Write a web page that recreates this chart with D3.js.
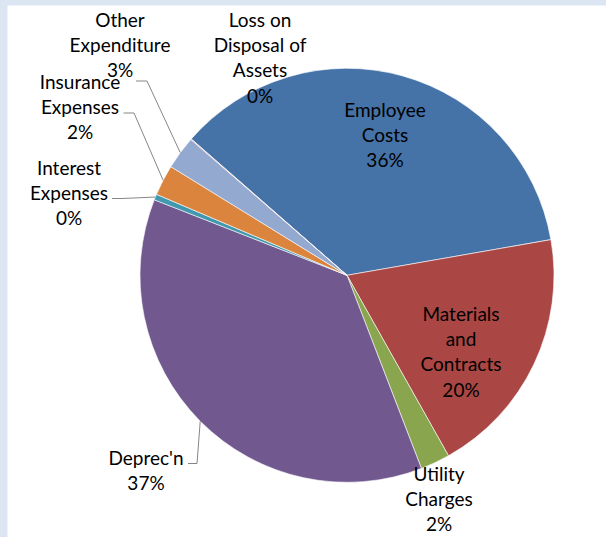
<!DOCTYPE html>
<html>
<head>
<meta charset="utf-8">
<script src="https://cdn.jsdelivr.net/npm/d3@7"></script>
<style>
  html, body { margin: 0; padding: 0; background: #dce6f2; }
  svg { display: block; }
</style>
</head>
<body>
<svg id="chart" width="606" height="537"></svg>
<script>
// Expenditure breakdown (percent of total)
const categories = [
  "Employee Costs", "Materials and Contracts", "Utility Charges", "Deprec'n",
  "Interest Expenses", "Insurance Expenses", "Other Expenditure", "Loss on Disposal of Assets"
];
const values = [35.8, 19.6, 2.3, 36.8, 0.45, 2.4, 2.6, 0.05];
const labelLines = [
  ["Employee", "Costs"],
  ["Materials", "and", "Contracts"],
  ["Utility", "Charges"],
  ["Deprec'n"],
  ["Interest", "Expenses"],
  ["Insurance", "Expenses"],
  ["Other", "Expenditure"],
  ["Loss on", "Disposal of", "Assets"]
];
const colors = ["#4572a7", "#aa4643", "#89a54e", "#71588f", "#4198af", "#db843d", "#93a9cf", "#d19392"];

// Label placement: centre x, centre of first line, optional leader anchor
const labelLayout = [
  { x: 385, y: 110, leader: null },
  { x: 461, y: 314, leader: null },
  { x: 439, y: 474, leader: null },
  { x: 146, y: 458, leader: [[188, 463.5], [197, 463.5]] },
  { x: 69,  y: 168, leader: [[112, 198.5], [122, 198.5]] },
  { x: 80,  y: 82,  leader: [[123.5, 113], [134, 113]] },
  { x: 120, y: 20,  leader: [[136, 81], [147, 81]] },
  { x: 260, y: 20,  leader: null }
];

const W = 606, H = 537;
const cx = 347, cy = 275.3, r = 207;
const lineGap = 25.3;

const svg = d3.select("#chart");

// panel
svg.append("rect")
  .attr("x", 7.5).attr("y", 5.5)
  .attr("width", W - 7.5).attr("height", H - 5.5)
  .attr("fill", "#ffffff");

const total = d3.sum(values);
const pct = d3.format(".0%");

const data = categories.map((c, i) => ({ name: c, value: values[i], i }));

const pie = d3.pie()
  .sort(null)
  .value(d => d.value)
  .startAngle(-48.8 * Math.PI / 180)
  .endAngle(-48.8 * Math.PI / 180 + 2 * Math.PI);

const arcs = pie(data);
const arc = d3.arc().innerRadius(0).outerRadius(r);
const rim = d3.arc().innerRadius(r).outerRadius(r);

const g = svg.append("g").attr("transform", `translate(${cx},${cy})`);

g.selectAll("path.slice")
  .data(arcs)
  .join("path")
  .attr("class", "slice")
  .attr("d", arc)
  .attr("fill", d => colors[d.data.i])
  .attr("stroke", "#ffffff")
  .attr("stroke-width", 0.6)
  .attr("stroke-linejoin", "round");

// leader lines
const leaders = svg.append("g");
arcs.forEach(d => {
  const lay = labelLayout[d.data.i];
  if (!lay.leader) return;
  const [ex, ey] = rim.centroid(d);
  const pts = lay.leader.concat([[cx + ex, cy + ey]]);
  leaders.append("path")
    .attr("d", d3.line()(pts))
    .attr("fill", "none")
    .attr("stroke", "#868686")
    .attr("stroke-width", 1);
});

// labels
const labels = svg.append("g")
  .attr("font-family", "Lato, 'Open Sans', sans-serif")
  .attr("font-size", 19)
  .attr("fill", "#000")
  .attr("text-anchor", "middle");

arcs.forEach(d => {
  const lay = labelLayout[d.data.i];
  const lines = labelLines[d.data.i].concat([pct(d.data.value / total)]);
  const t = labels.append("text");
  lines.forEach((s, k) => {
    t.append("tspan")
      .attr("x", lay.x)
      .attr("y", lay.y + k * lineGap)
      .attr("dy", "0.35em")
      .text(s);
  });
});
</script>
</body>
</html>
